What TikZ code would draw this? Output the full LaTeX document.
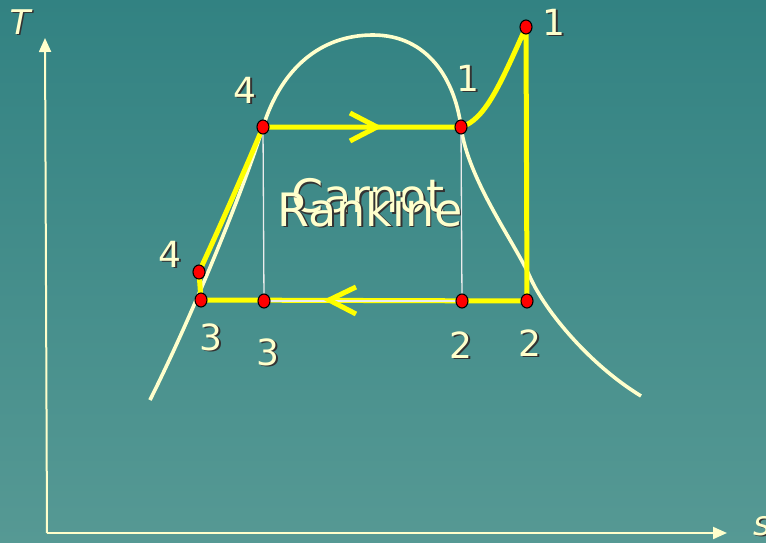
\documentclass[tikz,border=0pt]{standalone}
\usepackage{fontspec}
\setmainfont{DejaVu Sans}
\usetikzlibrary{arrows.meta,shapes.geometric}
\definecolor{bgtop}{RGB}{50,130,130}
\definecolor{bgbot}{RGB}{86,153,148}
\definecolor{cream}{RGB}{255,255,204}
\definecolor{ylw}{RGB}{255,255,0}
\newcommand{\shlabel}[4]{%
  \node[text=black!80,font=#3] at ([xshift=1.6pt,yshift=-1.6pt]#1) {#4};
  \node[text=cream,font=#3] (#2) at (#1) {#4};}
\begin{document}
\begin{tikzpicture}[x=1pt,y=-1pt,
  axis/.style={draw=cream,line width=2pt,-{Triangle[length=14pt,width=12pt]}},
  dome/.style={draw=cream,line width=3.6pt},
  cyc/.style={draw=ylw,line width=5pt,line join=round},
  thinw/.style={draw=white!85!gray,line width=1.3pt},
  chev/.style={draw=ylw,line width=5pt},
  dot/.style={ellipse,draw=black,fill=red,line width=1.1pt,minimum width=12pt,minimum height=14pt,inner sep=0pt}]
\shade[top color=bgtop,bottom color=bgbot] (0,0) rectangle (766,543);
\useasboundingbox (0,0) rectangle (766,543);
% points
\coordinate (o) at (47,533);
\coordinate (ty) at (45,38);
\coordinate (sx) at (727,533);
\coordinate (A) at (263,127);
\coordinate (B) at (461,127);
\coordinate (C) at (526,27);
\coordinate (D) at (527,301);
\coordinate (E) at (462,301);
\coordinate (F) at (264,301);
\coordinate (G) at (201,300);
\coordinate (H) at (199,272);
% axes
\draw[axis] (o) -- (ty);
\draw[axis] (o) -- (sx);
% dome
\draw[dome] (150,400) .. controls (195,310) and (245,185) .. (A)
  .. controls (281,69) and (320,35) .. (373,35)
  .. controls (428,35) and (455,80) .. (B)
  .. controls (468,180) and (515,243) .. (530,277)
  .. controls (545,311) and (590,365) .. (641,396);
% rankine cycle
\draw[cyc] (G) -- (H) .. controls (214,240) and (245,170) .. (A) -- (B)
  .. controls (485,120) and (500,85) .. (C) -- (D) -- (G);
% carnot thin lines
\draw[thinw] (A) -- (F);
\draw[thinw] (B) -- (E);
\draw[thinw] (F) -- (E);
% chevrons
\coordinate (r1) at (350,113); \coordinate (rt) at (377,127); \coordinate (r2) at (350,141);
\coordinate (l1) at (356,287); \coordinate (lt) at (329,300); \coordinate (l2) at (356,314);
\draw[chev] (r1) -- (rt) -- (r2);
\draw[chev] (l1) -- (lt) -- (l2);
% dots
\foreach \p in {A,B,C,D,E,F,G,H} \node[dot] (d\p) at (\p) {};
% labels
\shlabel{20,22}{lT}{\fontsize{34}{34}\selectfont\itshape}{T}
\shlabel{762,526}{ls}{\fontsize{34}{34}\selectfont\itshape}{s}
\shlabel{245,90}{l4a}{\fontsize{36}{36}\selectfont}{4}
\shlabel{468,78}{l1a}{\fontsize{36}{36}\selectfont}{1}
\shlabel{554,22}{l1b}{\fontsize{36}{36}\selectfont}{1}
\shlabel{170,254}{l4b}{\fontsize{36}{36}\selectfont}{4}
\shlabel{211,337}{l3a}{\fontsize{36}{36}\selectfont}{3}
\shlabel{268,352}{l3b}{\fontsize{36}{36}\selectfont}{3}
\shlabel{461,345}{l2a}{\fontsize{36}{36}\selectfont}{2}
\shlabel{530,343}{l2b}{\fontsize{36}{36}\selectfont}{2}
\shlabel{368,196}{lc}{\fontsize{46}{46}\selectfont}{Carnot}
\shlabel{370,209}{lr}{\fontsize{46}{46}\selectfont}{Rankine}
\end{tikzpicture}
\end{document}
